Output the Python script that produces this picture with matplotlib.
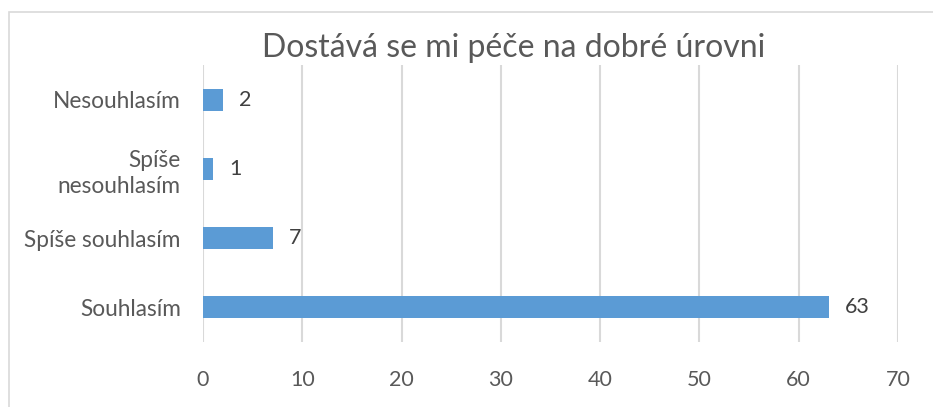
import matplotlib
matplotlib.use("Agg")
import matplotlib.pyplot as plt
from matplotlib.patches import Rectangle

categories = ["Souhlasím", "Spíše souhlasím", "Spíše\nnesouhlasím", "Nesouhlasím"]
values = [63, 7, 1, 2]
xticks = [0, 10, 20, 30, 40, 50, 60, 70]
title = "Dostává se mi péče na dobré úrovni"

plt.rcParams['font.family'] = ['Lato', 'DejaVu Sans']
W, H = 933, 407
fig = plt.figure(figsize=(W/100, H/100), dpi=100)
fig.patches.append(Rectangle((9/W, -0.1), 1.1, 1 - 12/H + 0.1, transform=fig.transFigure,
                             fill=False, edgecolor="#D9D9D9", linewidth=1.2))
ax = fig.add_axes([203/W, 1 - 342/H, (898-203)/W, (342-65)/H])
y = list(range(len(categories)))
ax.barh(y, values, height=0.32, color="#5B9BD5", zorder=3)
for yi, v in zip(y, values):
    ax.text(v + 1.6, yi, str(v), va="center", ha="left", fontsize=15.5, color="#404040")
ax.set_xlim(0, 70)
ax.set_ylim(-0.5, 3.5)
ax.set_xticks(xticks)
ax.set_xticklabels([str(t) for t in xticks], fontsize=15.5, color="#595959")
ax.set_yticks(y)
ax.set_yticklabels(categories, fontsize=16.3, color="#595959", linespacing=1.3)
ax.tick_params(axis="both", length=0)
ax.tick_params(axis="x", pad=20)
ax.tick_params(axis="y", pad=16)
ax.grid(axis="x", color="#D9D9D9", linewidth=1.5, zorder=0)
for s in ax.spines.values():
    s.set_visible(False)
fig.text(514/W, 1 - 48/H, title, ha="center", va="center", fontsize=23, color="#595959")
fig.savefig("out.png", dpi=100)
